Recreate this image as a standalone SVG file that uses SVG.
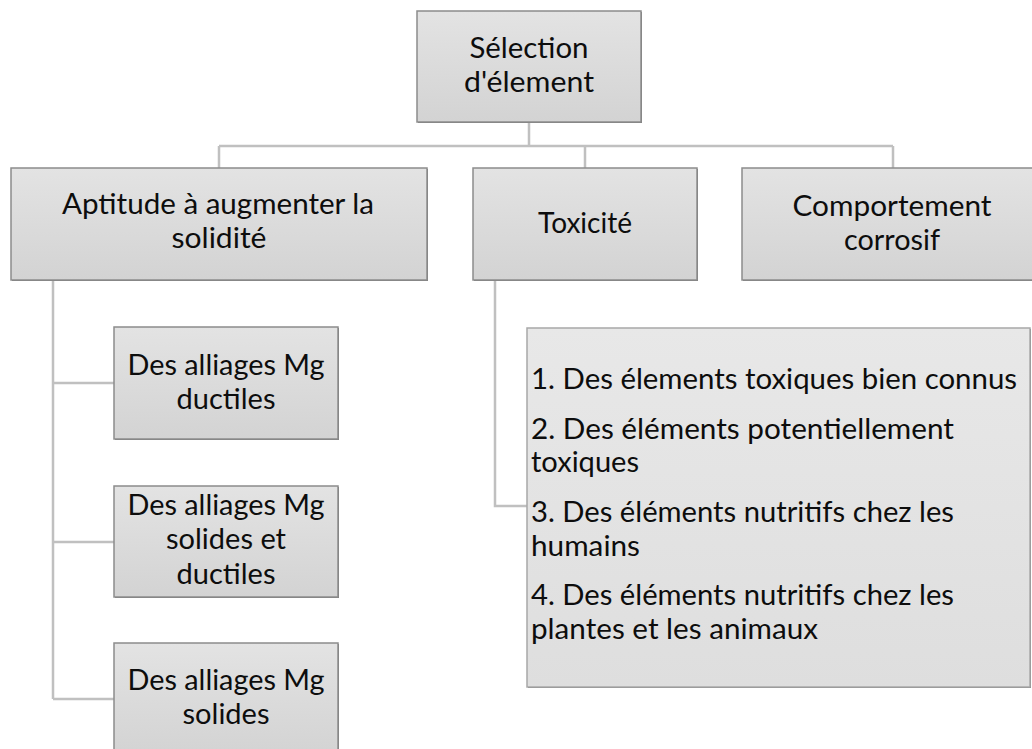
<svg xmlns="http://www.w3.org/2000/svg" width="1032" height="749" viewBox="0 0 1032 749">
  <defs>
    <linearGradient id="g" x1="0" y1="0" x2="0" y2="1">
      <stop offset="0" stop-color="#e3e3e3"/>
      <stop offset="1" stop-color="#d3d3d3"/>
    </linearGradient>
    <linearGradient id="gl" x1="0" y1="0" x2="0" y2="1">
      <stop offset="0" stop-color="#e8e8e8"/>
      <stop offset="1" stop-color="#dedede"/>
    </linearGradient>
    <style>
      .box { fill: url(#g); stroke: #8c8c8c; stroke-width: 1.5; }
      .sh { fill: #7a7a7a; }
      .lst { fill: url(#gl); stroke: #a8a8a8; stroke-width: 1.5; }
      .t { font-family: Lato, "Open Sans", "Liberation Sans", sans-serif; font-size: 28px; fill: #0d0d0d; }
      .c { text-anchor: middle; }
      .conn { fill: none; stroke: #c0c0c0; stroke-width: 2.5; }
    </style>
  </defs>
  <rect width="1032" height="749" fill="#ffffff"/>

  <g id="connectors">
    <path class="conn" d="M529 122 V146 M219 146 H893 M219 146 V168 M585 146 V168 M893 146 V168"/>
    <path class="conn" d="M53 280 V699 M53 383 H114 M53 542 H114 M53 699 H114"/>
    <path class="conn" d="M495 280 V506 H527"/>
  </g>

  <g id="selection">
    <rect class="sh" x="418" y="12" width="224" height="111"/>
    <rect class="box" x="417" y="11" width="224" height="111"/>
    <text class="t c" x="529" y="58" textLength="119" lengthAdjust="spacingAndGlyphs">Sélection</text>
    <text class="t c" x="529" y="92" textLength="130" lengthAdjust="spacingAndGlyphs">d'élement</text>
  </g>

  <g id="aptitude">
    <rect class="sh" x="12" y="169" width="416" height="112"/>
    <rect class="box" x="11" y="168" width="416" height="112"/>
    <text class="t c" x="218" y="214" textLength="312" lengthAdjust="spacingAndGlyphs">Aptitude à augmenter la</text>
    <text class="t c" x="219" y="248" textLength="95" lengthAdjust="spacingAndGlyphs">solidité</text>
  </g>

  <g id="toxicite">
    <rect class="sh" x="474" y="169" width="224" height="112"/>
    <rect class="box" x="473" y="168" width="224" height="112"/>
    <text class="t c" x="585" y="233" textLength="94" lengthAdjust="spacingAndGlyphs">Toxicité</text>
  </g>

  <g id="comportement">
    <rect class="sh" x="743" y="169" width="302" height="112"/>
    <rect class="box" x="742" y="168" width="302" height="112"/>
    <text class="t c" x="892" y="216" textLength="199" lengthAdjust="spacingAndGlyphs">Comportement</text>
    <text class="t c" x="892" y="250" textLength="96" lengthAdjust="spacingAndGlyphs">corrosif</text>
  </g>

  <g id="ductiles">
    <rect class="sh" x="115" y="328" width="224" height="112"/>
    <rect class="box" x="114" y="327" width="224" height="112"/>
    <text class="t c" x="226" y="375" textLength="197" lengthAdjust="spacingAndGlyphs">Des alliages Mg</text>
    <text class="t c" x="226" y="409" textLength="99" lengthAdjust="spacingAndGlyphs">ductiles</text>
  </g>

  <g id="solides-ductiles">
    <rect class="sh" x="115" y="487" width="224" height="111"/>
    <rect class="box" x="114" y="486" width="224" height="111"/>
    <text class="t c" x="226" y="515" textLength="197" lengthAdjust="spacingAndGlyphs">Des alliages Mg</text>
    <text class="t c" x="226" y="549" textLength="120" lengthAdjust="spacingAndGlyphs">solides et</text>
    <text class="t c" x="226" y="584" textLength="99" lengthAdjust="spacingAndGlyphs">ductiles</text>
  </g>

  <g id="solides">
    <rect class="sh" x="115" y="644" width="224" height="112"/>
    <rect class="box" x="114" y="643" width="224" height="112"/>
    <text class="t c" x="226" y="690" textLength="197" lengthAdjust="spacingAndGlyphs">Des alliages Mg</text>
    <text class="t c" x="226" y="724" textLength="87" lengthAdjust="spacingAndGlyphs">solides</text>
  </g>

  <g id="liste-toxicite">
    <rect class="sh" x="528" y="329" width="503" height="359"/>
    <rect class="lst" x="527" y="328" width="503" height="359"/>
    <text class="t" x="531" y="389" textLength="486" lengthAdjust="spacingAndGlyphs">1. Des élements toxiques bien connus</text>
    <text class="t" x="531" y="439" textLength="423" lengthAdjust="spacingAndGlyphs">2. Des éléments potentiellement</text>
    <text class="t" x="531" y="472" textLength="108" lengthAdjust="spacingAndGlyphs">toxiques</text>
    <text class="t" x="531" y="522" textLength="423" lengthAdjust="spacingAndGlyphs">3. Des éléments nutritifs chez les</text>
    <text class="t" x="531" y="556" textLength="109" lengthAdjust="spacingAndGlyphs">humains</text>
    <text class="t" x="531" y="605" textLength="423" lengthAdjust="spacingAndGlyphs">4. Des éléments nutritifs chez les</text>
    <text class="t" x="531" y="639" textLength="287" lengthAdjust="spacingAndGlyphs">plantes et les animaux</text>
  </g>
</svg>
